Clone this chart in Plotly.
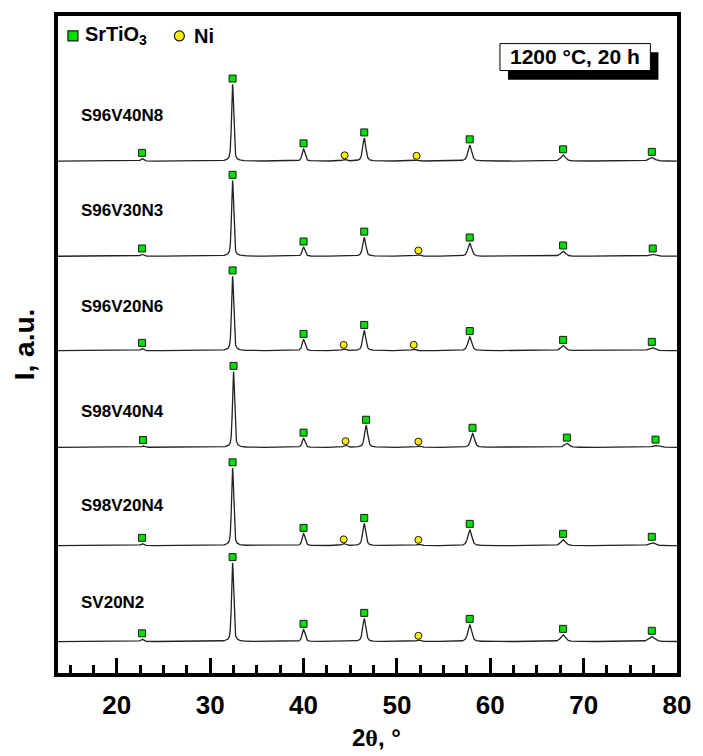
import numpy as np
import plotly.graph_objects as go

# --- XRD data: peak lists per sample (2theta in degrees, relative intensity) ---
samples = ["S96V40N8", "S96V30N3", "S96V20N6", "S98V40N4", "S98V20N4", "SV20N2"]
offsets = [667, 543, 420, 294, 166, 41]
label_y = [726, 602, 477, 341, 218, 92]

sto_pos = [
    [22.7, 32.4, 40.0, 46.5, 57.8, 67.8, 77.3],
    [22.7, 32.4, 40.0, 46.5, 57.8, 67.8, 77.4],
    [22.7, 32.4, 40.0, 46.5, 57.8, 67.8, 77.3],
    [22.8, 32.5, 40.0, 46.7, 58.1, 68.2, 77.7],
    [22.7, 32.4, 40.0, 46.5, 57.8, 67.8, 77.3],
    [22.7, 32.4, 40.0, 46.5, 57.8, 67.8, 77.3],
]
sto_int = [
    [3.2, 100, 15.6, 29.8, 20.8, 7.8, 4.5],
    [2.6, 98.6, 11.7, 24.6, 16.9, 6.5, 2.6],
    [2.6, 97, 14.3, 26.0, 18.0, 6.5, 3.9],
    [2.0, 98.6, 11.7, 28.5, 18.0, 5.2, 2.6],
    [2.6, 101, 15.6, 28.5, 20.8, 7.8, 3.9],
    [3.2, 102.5, 15.6, 29.8, 22.0, 9.0, 6.5],
]
sto_fwhm = [0.38, 0.26, 0.35, 0.4, 0.48, 0.6, 0.75]

ni_pos = [
    [44.4, 52.1],
    [52.3],
    [44.3, 51.8],
    [44.5, 52.3],
    [44.3, 52.3],
    [52.3],
]
ni_int = [
    [2.0, 1.3],
    [2.0],
    [2.0, 2.0],
    [2.6, 2.0],
    [2.6, 2.0],
    [2.0],
]
ni_fwhm = 0.45

x_range = [13.7, 80]
y_range = [0, 856]

STO_COLOR = "#00E000"
NI_COLOR = "#FFEE00"
EDGE = "#1a1a1a"
FONT = "Liberation Sans, Arial, sans-serif"


def profile(x, centers, heights, fwhm):
    """Pseudo-Voigt sum of peaks."""
    y = np.zeros_like(x)
    for c, h, w in zip(centers, heights, fwhm):
        g = np.exp(-4 * np.log(2) * ((x - c) / w) ** 2)
        lor = 1.0 / (1.0 + 4 * ((x - c) / w) ** 2)
        y += h * (0.5 * g + 0.5 * lor)
    return y


tt = np.arange(x_range[0], x_range[1] + 0.01, 0.01)

fig = go.Figure()

sq_x, sq_y, ci_x, ci_y = [], [], [], []
for i, name in enumerate(samples):
    y = profile(tt, sto_pos[i], sto_int[i], sto_fwhm)
    y += profile(tt, ni_pos[i], ni_int[i], [ni_fwhm] * len(ni_pos[i]))
    fig.add_trace(go.Scatter(
        x=tt, y=y + offsets[i], mode="lines",
        line=dict(color="#222222", width=1.3),
        hoverinfo="skip", showlegend=False,
    ))
    for p, h in zip(sto_pos[i], sto_int[i]):
        sq_x.append(p)
        sq_y.append(offsets[i] + h + 7.5)
    for p, h in zip(ni_pos[i], ni_int[i]):
        ci_x.append(p)
        ci_y.append(offsets[i] + h + 5.5)
    fig.add_annotation(
        x=15.9, y=label_y[i], xref="x", yref="y", xanchor="left", yanchor="middle",
        text=f"<b>{name}</b>", showarrow=False,
        font=dict(family=FONT, size=17, color="black"),
    )

fig.add_trace(go.Scatter(
    x=sq_x, y=sq_y, mode="markers",
    marker=dict(symbol="square", size=7, color=STO_COLOR, line=dict(color=EDGE, width=1)),
    showlegend=False, hoverinfo="skip",
))
fig.add_trace(go.Scatter(
    x=ci_x, y=ci_y, mode="markers",
    marker=dict(symbol="circle", size=7, color=NI_COLOR, line=dict(color=EDGE, width=1)),
    showlegend=False, hoverinfo="skip",
))

# phase key in the upper-left corner
fig.add_trace(go.Scatter(
    x=[15.3], y=[830], mode="markers",
    marker=dict(symbol="square", size=10, color=STO_COLOR, line=dict(color=EDGE, width=1.2)),
    showlegend=False, hoverinfo="skip",
))
fig.add_trace(go.Scatter(
    x=[26.7], y=[830], mode="markers",
    marker=dict(symbol="circle", size=10, color=NI_COLOR, line=dict(color=EDGE, width=1.2)),
    showlegend=False, hoverinfo="skip",
))
fig.add_annotation(x=16.4, y=830, xref="x", yref="y", xanchor="left", yanchor="middle",
                   text="<b>SrTiO<sub>3</sub></b>", showarrow=False,
                   font=dict(family=FONT, size=20, color="black"))
fig.add_annotation(x=28.0, y=830, xref="x", yref="y", xanchor="left", yanchor="middle",
                   text="<b>Ni</b>", showarrow=False,
                   font=dict(family=FONT, size=20, color="black"))

# annealing-condition box with drop shadow
fig.add_shape(type="rect", xref="paper", yref="paper",
              x0=0.727, x1=0.970, y0=0.903, y1=0.945,
              fillcolor="black", line=dict(width=0))
fig.add_shape(type="rect", xref="paper", yref="paper",
              x0=0.714, x1=0.957, y0=0.917, y1=0.958,
              fillcolor="white", line=dict(color="black", width=1))
fig.add_annotation(x=0.8355, y=0.938, xref="paper", yref="paper",
                   xanchor="center", yanchor="middle",
                   text="<b>1200 °C, 20 h</b>", showarrow=False,
                   font=dict(family=FONT, size=21, color="black"))

# x-axis title (theta set in a serif face)
fig.add_annotation(x=0.515, y=-0.098, xref="paper", yref="paper",
                   xanchor="center", yanchor="middle",
                   text="<b>2<span style='font-family:Liberation Serif'>θ</span>, °</b>",
                   showarrow=False, font=dict(family=FONT, size=24, color="black"))

fig.update_layout(
    width=703, height=756,
    margin=dict(l=58, r=16, t=13, b=83),
    paper_bgcolor="white", plot_bgcolor="white",
    font=dict(family=FONT, color="black"),
    xaxis=dict(
        range=x_range, tick0=0, dtick=10, ticks="inside", ticklen=15, tickwidth=2.5,
        tickcolor="black", showgrid=False, zeroline=False,
        showline=True, linewidth=3.5, linecolor="black", mirror=True,
        tickfont=dict(family="Liberation Sans Narrow, " + FONT, size=26, weight="bold"),
        ticklabelstandoff=6,
        minor=dict(dtick=2.5, ticks="inside", ticklen=8, tickwidth=2.5, tickcolor="black",
                   showgrid=False),
    ),
    yaxis=dict(
        range=y_range, showticklabels=False, ticks="", showgrid=False, zeroline=False,
        showline=True, linewidth=3.5, linecolor="black", mirror=True,
        title=dict(text="<b>I, a.u.</b>", font=dict(family=FONT, size=28), standoff=12),
    ),
)

fig.write_html("out.html")
